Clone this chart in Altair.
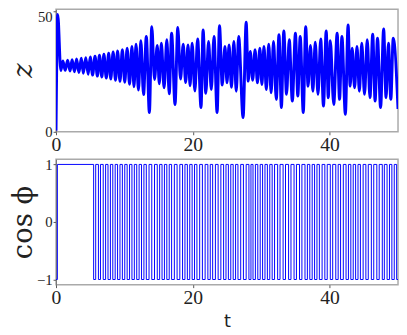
import altair as alt
import pandas as pd

# z(t): successive extrema (t, z)
z_t = [0.0, 0.25, 0.7,
       1.0, 1.35, 1.7, 2.05, 2.35, 2.7, 3.0, 3.35, 3.7, 4.0, 4.35, 4.7, 5.0, 5.35,
       5.7, 6.05, 6.35, 6.7, 7.0, 7.35, 7.7, 8.0, 8.35, 8.7, 9.0, 9.35,
       9.7, 10.05, 10.4, 10.75, 11.1, 11.4, 11.7, 12.05, 12.4, 12.8, 13.2, 13.65,
       14.0, 14.4, 14.8, 15.1, 15.4, 15.8, 16.2, 16.55, 16.9, 17.4, 17.8, 18.2,
       18.6, 18.95, 19.3, 19.6, 19.9, 20.3, 20.7, 21.2, 21.5, 21.9, 22.3, 22.7,
       23.1, 23.55, 23.9, 24.3, 24.7, 25.0, 25.3, 25.65, 26.0, 26.35, 26.7, 27.35,
       27.8, 28.1, 28.4, 28.75, 29.1, 29.45, 29.8, 30.1, 30.4, 30.75, 31.1, 31.45,
       31.8, 32.2, 32.6, 32.95, 33.3, 33.7, 34.1, 34.55, 35.0, 35.35, 35.7, 36.15,
       36.5, 36.85, 37.2, 37.55, 37.9, 38.3, 38.7, 39.1, 39.5, 39.8, 40.1, 40.6,
       41.1, 41.45, 41.8, 42.3, 42.7, 43.0, 43.3, 43.65, 44.0, 44.35, 44.7, 45.1,
       45.5, 45.9, 46.3, 46.65, 47.0, 47.45, 47.9, 48.25, 48.6, 48.95, 49.3, 50.0]
z_v = [0.5, 48.9, 25.5,
       29.5, 25.6, 29.8, 25.3, 30.0, 25.0, 30.3, 24.7, 30.6, 24.4, 30.9, 24.0, 31.2, 23.6,
       31.5, 23.2, 31.9, 22.8, 32.3, 22.4, 32.7, 22.0, 33.2, 21.5, 33.7, 21.0,
       34.2, 20.6, 34.8, 19.8, 35.5, 18.8, 36.5, 17.4, 37.9, 15.5, 39.7, 8.0,
       43.8, 21.8, 36.0, 20.0, 36.9, 18.3, 38.3, 15.8, 41.0, 11.4, 43.4, 22.0,
       36.5, 20.5, 36.2, 19.2, 36.9, 17.0, 38.7, 10.1, 42.4, 16.0, 37.6, 17.6,
       39.7, 8.0, 44.2, 19.5, 35.5, 20.4, 36.2, 18.5, 37.6, 16.9, 39.7, 5.9,
       45.6, 21.1, 33.5, 21.5, 34.2, 20.4, 34.8, 19.7, 35.5, 17.6, 36.5, 16.3,
       37.6, 13.5, 40.4, 10.1, 42.0, 15.6, 38.3, 12.8, 41.0, 14.9, 39.7, 8.0,
       43.8, 19.0, 36.0, 16.9, 37.3, 15.6, 38.7, 10.7, 42.0, 14.2, 37.9, 11.4,
       41.0, 13.5, 39.7, 7.3, 44.5, 19.0, 34.8, 18.3, 35.5, 16.9, 36.9, 15.6,
       38.3, 14.2, 40.6, 12.8, 39.0, 10.1, 42.8, 14.2, 36.9, 13.5, 39.0, 9.5]

# cos(phi): switching times (down to -1, back up to +1)
start_t = [0.0, 0.2]
start_v = [-1.0, 1.0]
down_t = [5.5, 6.2, 6.9, 7.6, 8.3, 9.0, 9.7, 10.4, 11.1, 11.8, 12.5, 13.2, 14.0,
          14.8, 15.5, 16.2, 16.9, 17.7, 18.5, 19.2, 19.9, 20.6, 21.4, 22.2, 22.9,
          23.7, 24.5, 25.2, 25.9, 26.6, 27.4, 28.2, 28.8, 29.5, 30.2, 30.9, 31.6,
          32.4, 33.2, 34.0, 34.8, 35.6, 36.4, 37.1, 37.8, 38.5, 39.3, 40.1, 40.9,
          41.6, 42.4, 43.1, 43.8, 44.5, 45.3, 46.1, 46.9, 47.7, 48.4, 49.1, 49.8]
up_t = [5.8, 6.5, 7.25, 7.95, 8.65, 9.35, 10.05, 10.75, 11.45, 12.15, 12.85, 13.6, 14.4,
        15.15, 15.85, 16.55, 17.3, 18.1, 18.85, 19.55, 20.25, 21.0, 21.8, 22.55, 23.3,
        24.1, 24.85, 25.55, 26.25, 27.0, 27.8, 28.5, 29.15, 29.85, 30.55, 31.25, 31.95,
        32.75, 33.55, 34.35, 35.15, 35.95, 36.75, 37.45, 38.15, 38.9, 39.65, 40.45, 41.25,
        42.0, 42.75, 43.45, 44.15, 44.9, 45.65, 46.45, 47.25, 48.0, 48.75, 49.45, 50.0]

top_df = pd.DataFrame({"t": z_t, "z": z_v})

rows_t = list(start_t)
rows_v = list(start_v)
for d, u in zip(down_t, up_t):
    rows_t += [d, u]
    rows_v += [-1.0, 1.0 if u < 50 else -1.0]
bot_df = pd.DataFrame({"t": rows_t, "c": rows_v})

BLUE = "#0000ff"
SERIF = "Liberation Serif"

top = alt.Chart(top_df).mark_line(color=BLUE, strokeWidth=3, interpolate="monotone",
                                  clip=True).encode(
    x=alt.X("t:Q", scale=alt.Scale(domain=[0, 50], nice=False),
            axis=alt.Axis(values=[0, 20, 40], labelFont=SERIF, labelFontSize=20, grid=False,
                          domain=False, tickSize=3, tickColor="#555", labelColor="#222",
                          labelPadding=0, labelFlush=False),
            title=None),
    y=alt.Y("z:Q", scale=alt.Scale(domain=[0, 51], nice=False),
            axis=alt.Axis(values=[0, 50], labelFont=SERIF, labelFontSize=15, grid=False,
                          domain=True, domainColor="#777", tickSize=3, tickColor="#555",
                          labelColor="#222", labelPadding=1, labelFlush=False,
                          labelOffset=alt.ExprRef(expr="datum.value == 50 ? 5 : 0"),
                          titleFont="DejaVu Serif", titleFontStyle="italic",
                          titleFontWeight="normal", titleFontSize=28, titleColor="#222",
                          titleX=-33, titleY=62, titleBaseline="middle", titleAngle=270),
            title="z"),
).properties(width=349, height=125)

bottom = alt.Chart(bot_df).mark_line(color=BLUE, strokeWidth=1, interpolate="step-after",
                                     clip=True).encode(
    x=alt.X("t:Q", scale=alt.Scale(domain=[0, 50], nice=False),
            axis=alt.Axis(values=[0, 20, 40], labelFont=SERIF, labelFontSize=20, grid=False,
                          domain=False, tickSize=3, tickColor="#555", labelColor="#222",
                          labelPadding=0, labelFlush=False, titleFont="DejaVu Sans",
                          titleFontSize=18, titleFontWeight="normal", titleColor="#222",
                          titlePadding=6),
            title="t"),
    y=alt.Y("c:Q", scale=alt.Scale(domain=[-1.09, 1.09], nice=False),
            axis=alt.Axis(values=[-1, 0, 1], labelFont=SERIF, labelFontSize=15, grid=False,
                          domain=True, domainColor="#777", tickSize=3, tickColor="#555",
                          labelColor="#222", labelPadding=1, labelFlush=False,
                          titleFont="DejaVu Serif", titleFontWeight="normal",
                          titleFontSize=28, titleColor="#222",
                          titleX=-33, titleY=64, titleBaseline="middle", titleAngle=270),
            title="cos ϕ"),
).properties(width=349, height=128)

chart = alt.vconcat(top, bottom, spacing=28, bounds="flush").properties(
    padding={"left": 1, "top": -3, "right": 0, "bottom": 0},
).configure_view(stroke="#aaa", strokeWidth=1.5)

chart.save("out.html", embed_options={"renderer": "svg", "actions": False})
